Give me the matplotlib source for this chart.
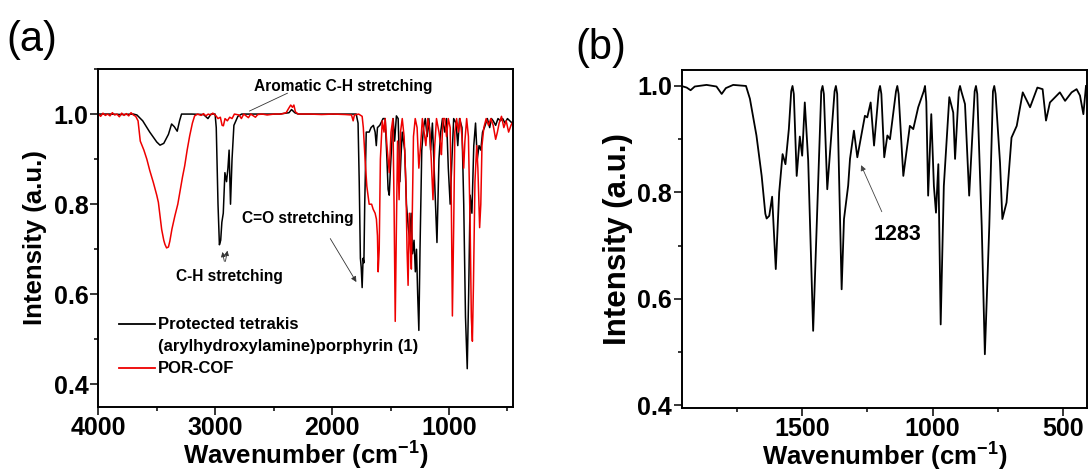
## FTIR spectra of protected porphyrin and POR-COF

import matplotlib.pyplot as plt
from matplotlib.lines import Line2D
from matplotlib.ticker import MultipleLocator

plt.rcParams['font.family'] = ['Liberation Sans', 'DejaVu Sans']
plt.rcParams['mathtext.fontset'] = 'custom'
plt.rcParams['mathtext.rm'] = 'Liberation Sans'
plt.rcParams['mathtext.bf'] = 'Liberation Sans:bold'

#%% Data

# (a) protected tetrakis(arylhydroxylamine)porphyrin (1)
prot_wn = [4000, 3900, 3800, 3700, 3670, 3620, 3560, 3500, 3472, 3440, 3400, 3373, 3350, 3325,
           3305, 3288, 3200, 3100, 3062, 3036, 3001, 2991, 2976, 2964, 2953, 2943, 2931, 2917,
           2903, 2891, 2881, 2869, 2856, 2840, 2806, 2774, 2600, 2450, 2369, 2347, 2319, 2290,
           2100, 1900, 1794, 1778, 1768, 1758, 1751, 1743, 1735, 1728, 1721, 1708, 1683, 1667,
           1647, 1632, 1622, 1612, 1592, 1564, 1546, 1531, 1521, 1511, 1501, 1478, 1465, 1450,
           1435, 1420, 1410, 1400, 1379, 1364, 1349, 1336, 1324, 1312, 1299, 1288, 1278, 1268,
           1258, 1248, 1233, 1218, 1203, 1187, 1172, 1157, 1142, 1127, 1103, 1086, 1071, 1056,
           1036, 1021, 1006, 990, 975, 960, 940, 925, 910, 889, 874, 859, 844, 832, 819, 804,
           788, 773, 758, 743, 728, 713, 697, 672, 652, 637, 622, 601, 581, 561, 541, 521, 500,
           480, 460, 440]
prot_int = [1.0, 1.0, 0.999, 1.0, 0.998, 0.985, 0.96, 0.938, 0.931, 0.935, 0.955, 0.978, 0.972, 0.962,
            0.985, 1.0, 1.0, 0.999, 0.99, 1.0, 1.0, 0.97, 0.80, 0.71, 0.72, 0.76, 0.78, 0.87,
            0.85, 0.88, 0.92, 0.80, 0.90, 0.975, 0.995, 1.0, 1.0, 1.0, 1.003, 1.01, 1.003, 1.0,
            1.0, 1.0, 1.0, 0.98, 0.85, 0.68, 0.66, 0.615, 0.68, 0.67, 0.80, 0.96, 0.96, 0.97,
            0.975, 0.96, 0.93, 0.97, 0.975, 0.99, 0.99, 0.90, 0.833, 0.82, 0.88, 0.99, 0.94, 0.996,
            0.99, 0.85, 0.91, 0.96, 0.92, 0.80, 0.75, 0.72, 0.78, 0.69, 0.72, 0.65, 0.70, 0.60,
            0.52, 0.70, 0.92, 0.97, 0.99, 0.95, 0.99, 0.92, 0.98, 0.88, 0.715, 0.90, 0.96, 0.99,
            0.96, 0.99, 0.88, 0.80, 0.90, 0.99, 0.98, 0.93, 0.99, 0.97, 0.80, 0.55, 0.435, 0.60, 0.82, 0.78,
            0.93, 0.98, 0.90, 0.93, 0.92, 0.96, 0.97, 0.99, 0.97, 0.99, 0.985, 0.975, 0.99, 0.985, 0.99, 0.98, 0.99,
            0.985, 0.98, 0.99]

# (a) POR-COF
cof_wn = [4000, 3980, 3960, 3940, 3920, 3900, 3880, 3860, 3840, 3820, 3800, 3780, 3760, 3740,
          3720, 3700, 3680, 3660, 3641, 3610, 3585, 3560, 3529, 3500, 3486, 3470, 3458, 3440,
          3430, 3416, 3400, 3388, 3370, 3345, 3320, 3303, 3280, 3261, 3240, 3218, 3195, 3176,
          3150, 3120, 3100, 3080, 3060, 3040, 3020, 2996, 2976, 2956, 2941, 2930, 2916, 2896,
          2876, 2856, 2836, 2796, 2776, 2756, 2716, 2696, 2656, 2636, 2596, 2556, 2496, 2436,
          2393, 2373, 2354, 2339, 2327, 2314, 2290, 2190, 2090, 1990, 1890, 1834, 1820, 1809,
          1773, 1743, 1733, 1718, 1703, 1683, 1662, 1649, 1632, 1621, 1612, 1606, 1597, 1587,
          1571, 1556, 1546, 1531, 1511, 1496, 1480, 1470, 1460, 1450, 1440, 1427, 1415, 1400,
          1384, 1369, 1359, 1350, 1339, 1329, 1322, 1314, 1304, 1289, 1273, 1258, 1243, 1228,
          1213, 1198, 1182, 1167, 1152, 1137, 1122, 1107, 1086, 1071, 1065, 1051, 1036, 1021,
          1006, 990, 980, 971, 960, 950, 935, 920, 905, 889, 874, 864, 849, 834, 819, 809,
          800, 791, 778, 763, 753, 738, 728, 718, 702, 682, 662, 642, 622, 601, 586, 571,
          551, 531, 511, 490, 470, 450, 430]
cof_int = [1.0, 0.995, 1.002, 0.997, 1.0, 0.996, 1.003, 0.998, 1.0, 0.994, 1.002, 0.997, 1.001, 0.996,
           1.003, 0.998, 0.995, 0.985, 0.94, 0.92, 0.90, 0.875, 0.848, 0.82, 0.804, 0.77, 0.744, 0.72,
           0.711, 0.703, 0.705, 0.718, 0.745, 0.774, 0.80, 0.826, 0.86, 0.885, 0.92, 0.952, 0.98, 0.996,
           1.0, 0.997, 1.001, 0.996, 1.0, 0.998, 1.002, 0.997, 0.99, 0.993, 0.975, 0.974, 0.99, 0.985,
           0.993, 0.99, 1.0, 0.998, 0.99, 1.0, 0.992, 1.0, 0.993, 0.999, 1.0, 0.998, 1.0, 1.0,
           1.003, 1.012, 1.02, 1.015, 1.02, 1.005, 1.0, 1.0, 0.999, 1.0, 0.999, 0.998, 0.985, 0.998,
           1.0, 0.995, 0.97, 0.90, 0.84, 0.80, 0.80, 0.789, 0.78, 0.767, 0.73, 0.65, 0.70, 0.90,
           0.985, 0.96, 0.99, 0.93, 0.87, 0.96, 0.99, 0.80, 0.54, 0.75, 0.94, 0.81, 0.96, 0.99,
           0.95, 0.85, 0.70, 0.62, 0.78, 0.70, 0.656, 0.78, 0.95, 0.99, 0.97, 0.88, 0.93, 0.99,
           0.96, 0.93, 0.99, 0.97, 0.90, 0.81, 0.93, 0.99, 0.96, 0.93, 0.91, 0.99, 0.99, 0.95,
           0.99, 0.97, 0.80, 0.552, 0.75, 0.96, 0.99, 0.96, 0.99, 0.95, 0.88, 0.94, 0.99, 0.95, 0.75, 0.55,
           0.496, 0.62, 0.85, 0.93, 0.88, 0.748, 0.80, 0.93, 0.97, 0.99, 0.975, 0.99, 0.975, 0.944, 0.96, 0.98,
           0.995, 0.97, 0.985, 0.96, 0.975, 0.985, 0.97]

# (b) zoom of the fingerprint region
fp_wn = [1961, 1941, 1926, 1910, 1865, 1827, 1807, 1791, 1763, 1714, 1699, 1674, 1654, 1640,
         1635, 1625, 1614, 1600, 1587, 1574, 1563, 1550, 1541, 1536, 1531, 1520, 1508, 1499,
         1489, 1476, 1457, 1426, 1421, 1416, 1403, 1375, 1370, 1365, 1348, 1339, 1323, 1316,
         1301, 1288, 1259, 1250, 1237, 1224, 1206, 1201, 1196, 1185, 1173, 1163, 1140, 1135,
         1130, 1112, 1087, 1074, 1055, 1034, 1029, 1024, 1017, 1005, 995, 987, 978, 969, 957,
         936, 921, 914, 900, 895, 890, 876, 860, 839, 834, 829, 812, 800, 783, 769, 764, 759,
         742, 733, 717, 698, 678, 655, 627, 599, 579, 566, 551, 513, 493, 468, 449, 436, 423, 413]
fp_int = [1.0, 0.997, 0.992, 0.999, 1.002, 0.999, 0.985, 0.996, 1.002, 1.0, 0.976, 0.907, 0.831, 0.76,
          0.751, 0.756, 0.792, 0.656, 0.800, 0.872, 0.853, 0.919, 0.99, 1.0, 0.985, 0.831, 0.905, 0.869,
          0.969, 0.86, 0.540, 0.99, 1.0, 0.985, 0.806, 0.99, 1.0, 0.985, 0.618, 0.75, 0.813, 0.863,
          0.916, 0.866, 0.944, 0.941, 0.969, 0.888, 0.99, 1.0, 0.985, 0.866, 0.907, 0.900, 0.99, 1.0,
          0.985, 0.831, 0.925, 0.919, 0.960, 0.99, 1.0, 0.97, 0.794, 0.947, 0.812, 0.762, 0.853, 0.552, 0.812,
          0.979, 0.950, 0.863, 0.99, 1.0, 0.99, 0.966, 0.794, 0.99, 1.0, 0.985, 0.737, 0.496, 0.737, 0.99, 1.0, 0.985,
          0.856, 0.750, 0.781, 0.903, 0.925, 0.988, 0.960, 0.997, 0.994, 0.935, 0.969, 0.988, 0.972, 0.988, 0.994, 0.982, 0.947, 1.0]

leg_labels = ['Protected tetrakis', '(arylhydroxylamine)porphyrin (1)', 'POR-COF']

#%% Plot
fig = plt.figure(figsize=(10.88, 4.73), dpi=100)
ax1 = fig.add_axes([98.3/1088, 66/473, 415/1088, 338/473])
ax2 = fig.add_axes([681.7/1088, 65/473, 405.6/1088, 338/473])

xlab = r'Wavenumber (cm$^{\mathbf{-1}}$)'

for ax in (ax1, ax2):
    for sp in ax.spines.values():
        sp.set_linewidth(1.4)
    ax.tick_params(which='major', direction='out', length=5.5, width=1.1, pad=1.5)
    ax.tick_params(which='minor', direction='out', length=3.2, width=1.1)
    ax.tick_params(axis='x', which='major', pad=1)
    ax.tick_params(top=False, right=False, which='both')
    ax.yaxis.set_major_locator(MultipleLocator(0.2))
    ax.yaxis.set_minor_locator(MultipleLocator(0.1))
    for lab in ax.get_xticklabels() + ax.get_yticklabels():
        lab.set_fontsize(18)
        lab.set_fontweight('bold')
    ax.set_xlabel(xlab, fontsize=18.5, fontweight='bold', labelpad=-1.5)

# (a)
ax1.plot(prot_wn, prot_int, color='black', lw=1.1)
ax1.plot(cof_wn, cof_int, color='#ee0000', lw=1.1)
ax1.set_xlim(4000, 450)
ax1.set_ylim(0.35, 1.10)
ax1.xaxis.set_major_locator(MultipleLocator(1000))
ax1.xaxis.set_minor_locator(MultipleLocator(500))
ax1.set_ylabel('Intensity (a.u.)', fontsize=18.5, fontweight='bold')
ax1.yaxis.set_label_coords(-0.124, 0.5)

handles = [Line2D([], [], color='black', lw=1.3),
           Line2D([], [], color='none'),
           Line2D([], [], color='#ee0000', lw=1.3)]
ax1.legend(handles, leg_labels, loc='upper left', bbox_to_anchor=(0.05, 0.265),
           frameon=False, prop={'weight': 'bold', 'size': 12}, handlelength=2.15,
           handletextpad=0.2, labelspacing=0.42, borderpad=0, borderaxespad=0)

ann = dict(fontsize=11.2, fontweight='bold', ha='center', va='center')
ax1.annotate('', xy=(2729, 1.004), xytext=(2360, 1.049),
             arrowprops=dict(arrowstyle='-', color='#333333', lw=0.6))
ax1.text(1904, 1.062, 'Aromatic C-H stretching', **ann)
ax1.annotate('', xy=(1780, 0.622), xytext=(2028, 0.729),
             arrowprops=dict(arrowstyle='-|>', color='#333333', lw=0.6, mutation_scale=8))
ax1.text(2297, 0.769, 'C=O stretching', **ann)
ax1.annotate('', xy=(2943, 0.70), xytext=(2917, 0.667),
             arrowprops=dict(arrowstyle='-|>', color='#333333', lw=0.6, mutation_scale=7))
ax1.annotate('', xy=(2891, 0.703), xytext=(2917, 0.667),
             arrowprops=dict(arrowstyle='-|>', color='#333333', lw=0.6, mutation_scale=7))
ax1.text(2881, 0.639, 'C-H stretching', **ann)

# (b)
ax2.plot(fp_wn, fp_int, color='black', lw=1.3)
ax2.set_xlim(1960, 408)
ax2.set_ylim(0.395, 1.03)
ax2.xaxis.set_major_locator(MultipleLocator(500))
ax2.xaxis.set_minor_locator(MultipleLocator(250))
ax2.set_ylabel('Intensity (a.u.)', fontsize=22.5, fontweight='bold')
ax2.yaxis.set_label_coords(-0.12, 0.5)
ax2.annotate('', xy=(1278, 0.856), xytext=(1190, 0.759),
             arrowprops=dict(arrowstyle='-|>', color='#444444', lw=0.6, mutation_scale=8))
ax2.text(1133, 0.721, '1283', fontsize=15.5, fontweight='bold', ha='center', va='center')

fig.text(32/1088, 1 - 40/473, '(a)', fontsize=30, ha='center', va='center')
fig.text(601/1088, 1 - 48/473, '(b)', fontsize=30, ha='center', va='center')

plt.savefig('out.png', dpi=100)
